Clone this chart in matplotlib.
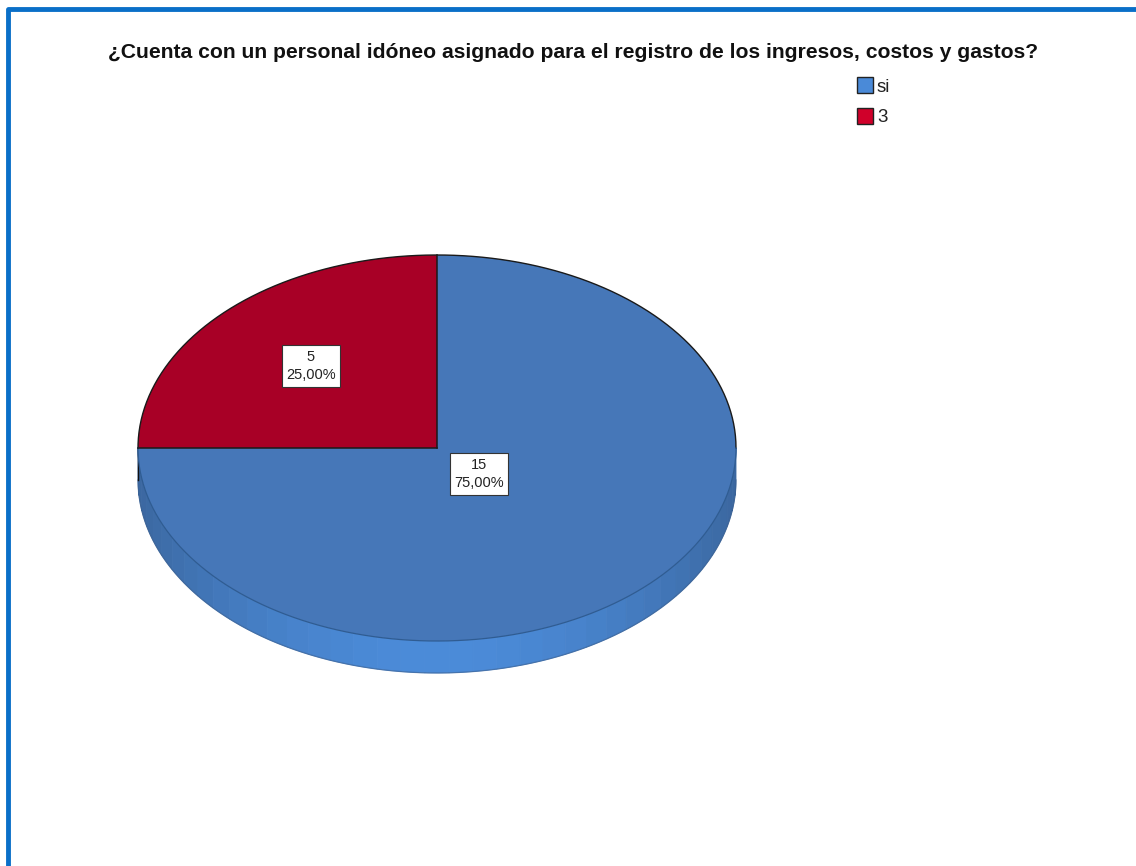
import numpy as np
import matplotlib.pyplot as plt
from matplotlib.patches import Polygon, Rectangle

TITLE = "¿Cuenta con un personal idóneo asignado para el registro de los ingresos, costos y gastos?"
categories = ["si", "3"]
counts = [15, 5]
percent_labels = ["75,00%", "25,00%"]
top_colors = ["#4677b8", "#a80026"]
legend_colors = ["#4a8ad8", "#d0002a"]

NARROW = ["Liberation Sans Narrow", "Liberation Sans", "DejaVu Sans"]

W, H = 1136, 866
cx, cy = 437, 448      # centre of top face (pixels)
a, b = 299, 193        # semi axes
depth = 32


def ellipse_pts(t0, t1, n=200, dy=0.0):
    t = np.linspace(t0, t1, n)
    return cx + a * np.cos(t), cy - b * np.sin(t) + dy


fig = plt.figure(figsize=(W / 100, H / 100), dpi=100)
ax = fig.add_axes([0, 0, 1, 1])
ax.set_xlim(0, W)
ax.set_ylim(H, 0)
ax.axis("off")

# frame (blue border on left / top)
ax.plot([8, 8, W + 5], [H + 5, 9, 9], color="#0a6fc8", linewidth=3.5,
        solid_capstyle="butt", zorder=10)

total = sum(counts)
fracs = [c / total for c in counts]
# slices start at 12 o'clock and run clockwise
starts = []
ang = np.pi / 2
for f in fracs:
    starts.append((ang, ang - 2 * np.pi * f))
    ang -= 2 * np.pi * f

# side wall: visible where the angle is in the lower half
side_base = np.array([0x3b, 0x67, 0xa0]) / 255
side_light = np.array([0x4b, 0x8b, 0xd8]) / 255
for (t0, t1), col in zip(starts, top_colors):
    lo, hi = min(t0, t1), max(t0, t1)
    for k in range(-1, 2):
        s0 = max(lo, np.pi + 2 * np.pi * k)
        s1 = min(hi, 2 * np.pi + 2 * np.pi * k)
        if s1 <= s0:
            continue
        edges = np.linspace(s0, s1, 40)
        for e0, e1 in zip(edges[:-1], edges[1:]):
            mid = 0.5 * (e0 + e1)
            w = max(0.0, -np.sin(mid)) ** 2
            if col == top_colors[0]:
                c = side_base * (1 - w) + side_light * w
            else:
                c = np.array([0x80, 0x00, 0x1d]) / 255
            xs, ys = ellipse_pts(e0, e1, 8)
            xb, yb = ellipse_pts(e1, e0, 8, dy=depth)
            poly = Polygon(np.column_stack([np.r_[xs, xb], np.r_[ys, yb]]),
                           closed=True, facecolor=c, edgecolor=c,
                           linewidth=0.6, zorder=1)
            ax.add_patch(poly)

# soft lower rim of the side wall
xb, yb = ellipse_pts(np.pi, 2 * np.pi, 300, dy=depth)
ax.plot(xb, yb, color="#3a5f8f", lw=0.9, alpha=0.6, zorder=2)
ax.plot([cx - a, cx - a], [cy, cy + depth], color="#111111", lw=1.0, zorder=2)

# top faces
for (t0, t1), col in zip(starts, top_colors):
    xs, ys = ellipse_pts(t0, t1, 300)
    pts = np.column_stack([np.r_[cx, xs], np.r_[cy, ys]])
    ax.add_patch(Polygon(pts, closed=True, facecolor=col,
                         edgecolor="none", zorder=3))

# outlines: dark on upper half and slice edges, faint along the front rim
xs, ys = ellipse_pts(0, np.pi, 300)
ax.plot(xs, ys, color="#1a1a1a", lw=1.0, zorder=4)
xs, ys = ellipse_pts(np.pi, 2 * np.pi, 300)
ax.plot(xs, ys, color="#2f5c92", lw=0.9, zorder=4)
for (t0, t1), col in zip(starts, top_colors):
    if col != top_colors[1]:
        continue
    for t in (t0, t1):
        ex, ey = ellipse_pts(t, t, 1)
        ax.plot([cx, ex[0]], [cy, ey[0]], color="#1a1a1a", lw=1.1, zorder=4)

# value labels
for (t0, t1), n, p in zip(starts, counts, percent_labels):
    f = abs(t1 - t0) / (2 * np.pi)
    if f > 0.5:
        lx, ly = cx + 42, cy + 26
    else:
        lx, ly = cx - 126, cy - 82
    ax.text(lx, ly, f"{n}\n{p}", ha="center", va="center", fontsize=10.5,
            family=NARROW, color="#222222", linespacing=1.45, zorder=5,
            bbox=dict(boxstyle="square,pad=0.3", facecolor="white",
                      edgecolor="#333333", linewidth=0.8))

# title
ax.text(573, 53, TITLE, ha="center", va="center", fontsize=15.2,
        fontweight="bold", family=NARROW, color="#111111")

# legend
for i, (lab, col) in enumerate(zip(categories, legend_colors)):
    y0 = 77 + i * 31
    ax.add_patch(Rectangle((857, y0), 16, 16, facecolor=col,
                           edgecolor="#222222", linewidth=1.0, zorder=5))
    ax.text(877, y0 + 10, lab, ha="left", va="center", fontsize=13.5,
            family=NARROW, color="#222222")

fig.savefig("out.png", dpi=100, facecolor="white")
